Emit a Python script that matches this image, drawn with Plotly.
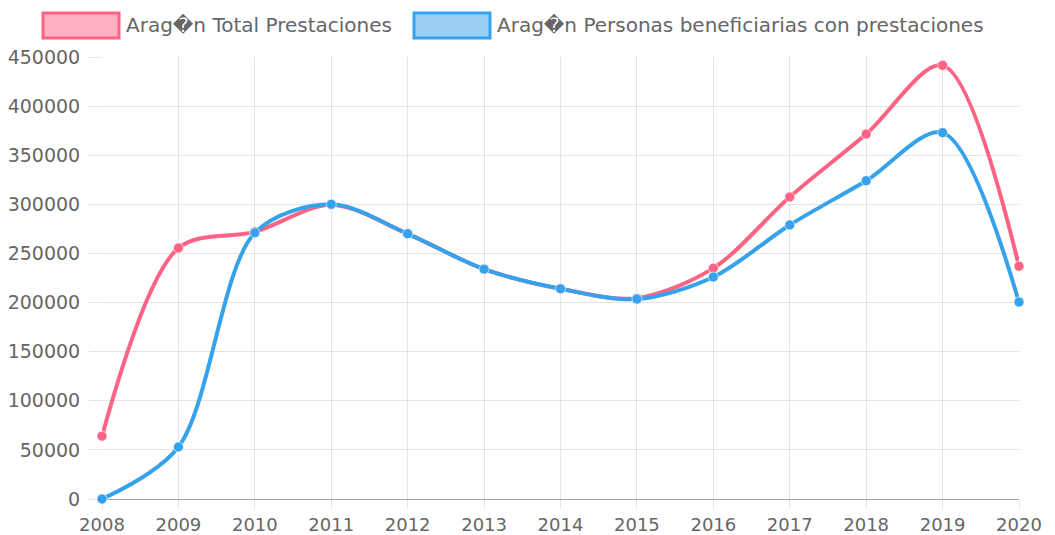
import plotly.graph_objects as go

years = [2008, 2009, 2010, 2011, 2012, 2013, 2014, 2015, 2016, 2017, 2018, 2019, 2020]
total_prestaciones = [64000, 255500, 272000, 299500, 270000, 234000, 214000, 204500, 235000, 307500, 371500, 441500, 237000]
personas_beneficiarias = [0, 53000, 271000, 300000, 270000, 234000, 214000, 203500, 226000, 279000, 324000, 373000, 200500]
y_ticks = [0, 50000, 100000, 150000, 200000, 250000, 300000, 350000, 400000, 450000]

series_names = ["Arag\ufffdn Total Prestaciones", "Arag\ufffdn Personas beneficiarias con prestaciones"]
pink = "rgb(255,99,132)"
blue = "rgb(54,162,235)"

fig = go.Figure()
for name, vals, col in [(series_names[0], total_prestaciones, pink), (series_names[1], personas_beneficiarias, blue)]:
    fig.add_trace(go.Scatter(
        x=years, y=vals, name=name, mode="lines+markers",
        line=dict(color=col, width=4, shape="spline", smoothing=0.9),
        marker=dict(color=col, size=10, line=dict(color="rgba(255,255,255,0.6)", width=1)),
        showlegend=False, cliponaxis=False,
    ))

font = "DejaVu Sans, Verdana, sans-serif"
# plot area on screen: x 102..1019, y 57..499 (page body has an 8px margin)
fig.update_layout(
    width=1055, height=535,
    margin=dict(l=94, r=44, t=49, b=44, autoexpand=False),
    paper_bgcolor="white", plot_bgcolor="white",
    font=dict(family=font, size=18, color="#666"),
    xaxis=dict(
        range=[2008, 2020], tickmode="array", tickvals=years, ticktext=[str(y) for y in years],
        showgrid=True, gridcolor="rgba(0,0,0,0.1)", gridwidth=1,
        ticks="outside", ticklen=9, tickcolor="rgba(0,0,0,0.1)",
        zeroline=False, showline=False, automargin=False,
        tickfont=dict(family=font, size=18, color="#666"),
    ),
    yaxis=dict(
        range=[0, 450000], tickmode="array", tickvals=y_ticks, ticktext=[str(v) for v in y_ticks],
        showgrid=True, gridcolor="rgba(0,0,0,0.1)", gridwidth=1,
        ticks="outside", ticklen=12, tickcolor="rgba(0,0,0,0.1)",
        ticklabelstandoff=5,
        zeroline=True, zerolinecolor="rgba(0,0,0,0.35)", zerolinewidth=1,
        showline=False, automargin=False,
        tickfont=dict(family=font, size=19, color="#666"),
    ),
)

# Chart.js-style legend boxes (positions in screen px converted to paper coords)
PX0, PW, PY1, PH = 102, 917, 499, 442
legend_items = [
    (series_names[0], "rgba(255,99,132,0.5)", pink, 43, 119),
    (series_names[1], "rgba(54,162,235,0.5)", blue, 414, 490),
]
for name, fill, col, x0, x1 in legend_items:
    fig.add_shape(type="rect", xref="paper", yref="paper",
                  x0=(x0 - PX0) / PW, x1=(x1 - PX0) / PW,
                  y0=(PY1 - 38) / PH, y1=(PY1 - 13) / PH,
                  fillcolor=fill, line=dict(color=col, width=3))
    fig.add_annotation(xref="paper", yref="paper", x=(x1 + 5 - PX0) / PW,
                       y=(PY1 - 25) / PH, text=name, showarrow=False,
                       xanchor="left", yanchor="middle",
                       font=dict(family=font, size=20, color="#666"))

fig.write_html("out.html")
